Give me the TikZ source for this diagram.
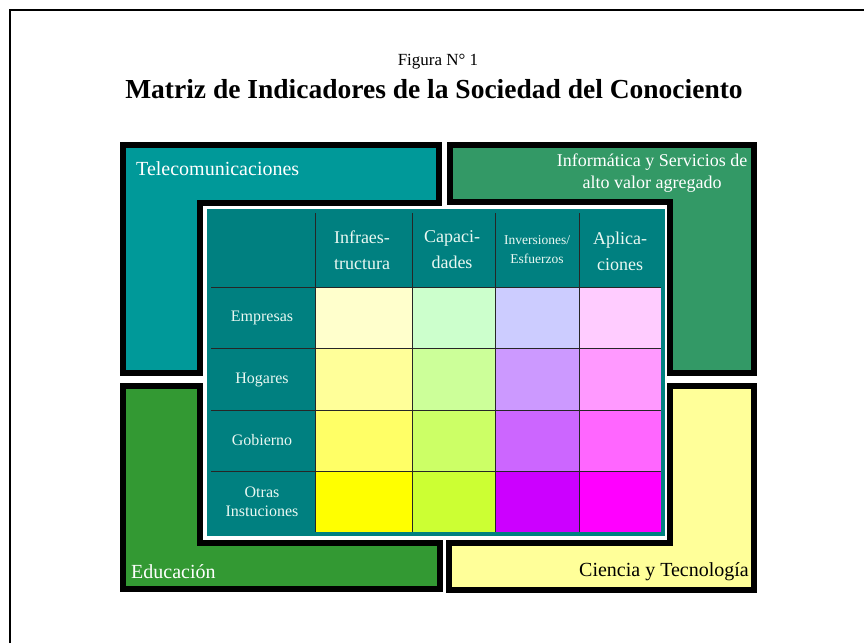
\documentclass[tikz,border=0pt]{standalone}
\usepackage{fontspec}
\setmainfont{Liberation Serif}
\definecolor{telec}{HTML}{009999}
\definecolor{infor}{HTML}{339966}
\definecolor{educ}{HTML}{339933}
\definecolor{cienc}{HTML}{FFFF99}
\definecolor{tabteal}{HTML}{008080}
\definecolor{hdrtxt}{HTML}{EAF8F2}
\begin{document}
\begin{tikzpicture}[x=1pt,y=-1pt,
  lblock/.style={line width=6pt, draw=black, miter limit=10},
  blocktxt/.style={inner sep=0pt, font=\fontsize{20}{24}\selectfont},
  hdr/.style={text=hdrtxt, align=center, inner sep=0pt, font=\fontsize{18}{26}\selectfont},
  hdrsmall/.style={text=hdrtxt, align=center, inner sep=0pt, font=\fontsize{13.5}{19}\selectfont},
  rowlbl/.style={text=hdrtxt, align=center, inner sep=0pt, font=\fontsize{16}{19}\selectfont},
  gridline/.style={line width=1pt, draw=black!85}]
\useasboundingbox (0,0) rectangle (864,643);
% outer frame
\draw[line width=1.5pt] (10,643) -- (10,10) -- (864,10);
% titles
\node[inner sep=0pt, font=\fontsize{17}{20}\selectfont] (fig) at (438,62) {Figura N° 1};
\node[inner sep=0pt, font=\fontsize{27.5}{30}\selectfont\bfseries] (title) at (434,89) {Matriz de Indicadores de la Sociedad del Conociento};
% L blocks
\filldraw[lblock, fill=telec] (123,145) -- (439,145) -- (439,203) -- (200,203) -- (200,373) -- (123,373) -- cycle;
\filldraw[lblock, fill=infor] (450,145) -- (754,145) -- (754,373) -- (670,373) -- (670,202) -- (450,202) -- cycle;
\filldraw[lblock, fill=educ] (123,386) -- (200,386) -- (200,543) -- (440,543) -- (440,589) -- (123,589) -- cycle;
\filldraw[lblock, fill=cienc] (670,386) -- (754,386) -- (754,590) -- (449,590) -- (449,543) -- (670,543) -- cycle;
\node[blocktxt, text=white, anchor=west] (tel) at (136,169) {Telecomunicaciones};
\node[blocktxt, text=white, align=center, font=\fontsize{18}{22}\selectfont] (inf) at (652,173) {Informática y Servicios de\\alto valor agregado};
\node[blocktxt, text=white, anchor=west] (edu) at (131,572) {Educación};
\node[blocktxt, text=black, anchor=east] (cyt) at (749,572) {Ciencia y Tecnología};
% table
\fill[white] (203,206) rectangle (667,540);
\fill[tabteal] (207,209) rectangle (665,536);
\foreach \ya/\yb/\ca/\cb/\cc/\cd in {287/348/FFFFCC/CCFFCC/CCCCFF/FFCCFF,
                                    348/410/FFFF99/CCFF99/CC99FF/FF99FF,
                                    410/471/FFFF66/CCFF66/CC66FF/FF66FF,
                                    471/532/FFFF00/CCFF33/CC00FF/FF00FF}{
  \definecolor{cA}{HTML}{\ca}\definecolor{cB}{HTML}{\cb}
  \definecolor{cC}{HTML}{\cc}\definecolor{cD}{HTML}{\cd}
  \fill[cA] (315,\ya) rectangle (412,\yb);
  \fill[cB] (412,\ya) rectangle (495,\yb);
  \fill[cC] (495,\ya) rectangle (579,\yb);
  \fill[cD] (579,\ya) rectangle (661,\yb);
}
\foreach \y in {287,348,410,471}{\draw[gridline] (211,\y) -- (661,\y);}
\foreach \x in {315,412,495,579}{\draw[gridline] (\x,213) -- (\x,532);}
% headers
\node[hdr] (infra) at (362,250) {Infraes-\\tructura};
\node[hdr] (capa) at (452,250) {Capaci-\\dades};
\node[hdrsmall] (inve) at (537,250) {Inversiones/\\Esfuerzos};
\node[hdr] (apli) at (620,251) {Aplica-\\ciones};
\node[rowlbl] (emp) at (262,318) {Empresas};
\node[rowlbl] (hog) at (262,380) {Hogares};
\node[rowlbl] (gob) at (262,440) {Gobierno};
\node[rowlbl] (otr) at (262,502) {Otras\\Instuciones};
\end{tikzpicture}
\end{document}
